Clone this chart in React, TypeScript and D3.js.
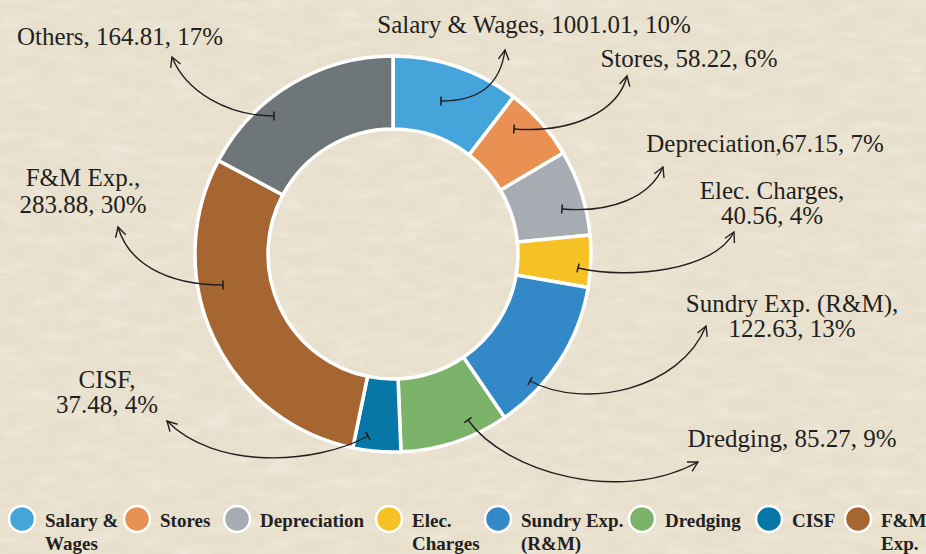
import React from "react";
import * as d3 from "d3";

const categories = ["Salary & Wages", "Stores", "Depreciation", "Elec. Charges", "Sundry Exp. (R&M)", "Dredging", "CISF", "F&M Exp.", "Others"];
// slice sizes as drawn in the picture
const values = [100.01, 58.22, 67.15, 40.56, 122.63, 85.27, 37.48, 283.88, 164.81];
const labelLines = [
  ["Salary & Wages, 1001.01, 10%"],
  ["Stores, 58.22, 6%"],
  ["Depreciation,67.15, 7%"],
  ["Elec. Charges,", "40.56, 4%"],
  ["Sundry Exp. (R&M),", "122.63, 13%"],
  ["Dredging, 85.27, 9%"],
  ["CISF,", "37.48, 4%"],
  ["F&M Exp.,", "283.88, 30%"],
  ["Others, 164.81, 17%"],
];
const legendLines = [
  ["Salary &", "Wages"],
  ["Stores"],
  ["Depreciation"],
  ["Elec.", "Charges"],
  ["Sundry Exp.", "(R&M)"],
  ["Dredging"],
  ["CISF"],
  ["F&M", "Exp."],
];

const colors = ["#45A4DA", "#E99152", "#A7ACB3", "#F6C124", "#3388C7", "#7BB36A", "#0777A8", "#A66632", "#6F767A"];

// annotation layout (label anchor + connector geometry)
const labelPos: [number, number, number][] = [
  [534, 33, 25], [689, 67, 25], [765, 152, 25], [772, 199, 25], [792, 312, 25],
  [792, 447, 25], [107, 388, 25], [83, 186, 27], [120, 45, 25],
];
const connectors: [number, number, number, number, number, number, number, number][] = [
  [441, 101, 478, 101, 500, 86, 505, 50],
  [514, 129, 572, 133, 618, 112, 627, 76],
  [562, 209, 612, 213, 650, 197, 663, 167],
  [578, 268, 630, 280, 715, 270, 734, 232],
  [530, 381, 585, 410, 680, 390, 706, 326],
  [468, 420, 505, 472, 620, 505, 698, 462],
  [368, 436, 315, 465, 215, 470, 167, 421],
  [223, 285, 165, 285, 128, 262, 118, 227],
  [274, 116, 228, 116, 186, 92, 172, 57],
];
const legendX = [22, 137, 237, 389, 498, 642, 769, 858];

const W = 926, H = 554;
const cx = 393, cy = 254, rOuter = 198, rInner = 125;

export default function App() {
  const pie = d3.pie<number>().sort(null).value((d) => d).startAngle(0).endAngle(2 * Math.PI);
  const arcs = pie(values);
  const arc = d3.arc<d3.PieArcDatum<number>>().innerRadius(rInner).outerRadius(rOuter);

  const arrowHead = (x1: number, y1: number, x2: number, y2: number) => {
    const ang = Math.atan2(y2 - y1, x2 - x1);
    const L = 11, a = 0.5;
    const p1 = [x2 - L * Math.cos(ang - a), y2 - L * Math.sin(ang - a)];
    const p2 = [x2 - L * Math.cos(ang + a), y2 - L * Math.sin(ang + a)];
    return `M${p1[0]},${p1[1]}L${x2},${y2}L${p2[0]},${p2[1]}`;
  };
  const tick = (x1: number, y1: number, x2: number, y2: number) => {
    const ang = Math.atan2(y2 - y1, x2 - x1) + Math.PI / 2;
    const L = 4.5;
    return `M${x1 - L * Math.cos(ang)},${y1 - L * Math.sin(ang)}L${x1 + L * Math.cos(ang)},${y1 + L * Math.sin(ang)}`;
  };

  return (
    <svg width={W} height={H} style={{ position: "absolute", left: 0, top: 0 }} fontFamily="'Liberation Serif', serif">
      <defs>
        <filter id="paper" x="0" y="0" width="100%" height="100%">
          <feTurbulence type="fractalNoise" baseFrequency="0.03 0.09" numOctaves="4" seed="7" result="n" />
          <feColorMatrix in="n" type="matrix" values="0 0 0 0 0.97  0 0 0 0 0.95  0 0 0 0 0.89  1.5 0 0 0 -0.7" result="light" />
          <feTurbulence type="fractalNoise" baseFrequency="0.035 0.1" numOctaves="3" seed="21" result="n2" />
          <feColorMatrix in="n2" type="matrix" values="0 0 0 0 0.84  0 0 0 0 0.78  0 0 0 0 0.65  1.3 0 0 0 -0.68" result="dark" />
          <feMerge>
            <feMergeNode in="dark" />
            <feMergeNode in="light" />
          </feMerge>
        </filter>
      </defs>
      <rect width={W} height={H} fill="#E8E0CD" />
      <rect width={W} height={H} filter="url(#paper)" opacity={0.55} />
      <g transform={`translate(${cx},${cy})`}>
        {arcs.map((a, i) => (
          <path key={categories[i]} d={arc(a) || ""} fill={colors[i]} stroke="#fff" strokeWidth={3.5} strokeLinejoin="miter" />
        ))}
      </g>
      <g fill="none" stroke="#231F20" strokeWidth={1.4}>
        {connectors.map((c, i) => (
          <g key={i}>
            <path d={`M${c[0]},${c[1]}C${c[2]},${c[3]} ${c[4]},${c[5]} ${c[6]},${c[7]}`} />
            <path d={arrowHead(c[4], c[5], c[6], c[7])} />
            <path d={tick(c[0], c[1], c[2], c[3])} strokeWidth={1.6} />
          </g>
        ))}
      </g>
      <g fill="#231F20" fontSize={25} textAnchor="middle">
        {labelLines.map((lines, i) => (
          <text key={i} x={labelPos[i][0]} y={labelPos[i][1]}>
            {lines.map((l, j) => (
              <tspan key={j} x={labelPos[i][0]} dy={j === 0 ? 0 : labelPos[i][2]}>{l}</tspan>
            ))}
          </text>
        ))}
      </g>
      <g>
        {legendLines.map((lines, i) => (
          <g key={i}>
            <circle cx={legendX[i]} cy={519} r={13} fill={colors[i]} stroke="#fff" strokeWidth={2.5} />
            <text x={legendX[i] + 23} y={527} fontSize={19} fontWeight="bold" fill="#231F20">
              {lines.map((l, j) => (
                <tspan key={j} x={legendX[i] + 23} dy={j === 0 ? 0 : 23}>{l}</tspan>
              ))}
            </text>
          </g>
        ))}
      </g>
    </svg>
  );
}
